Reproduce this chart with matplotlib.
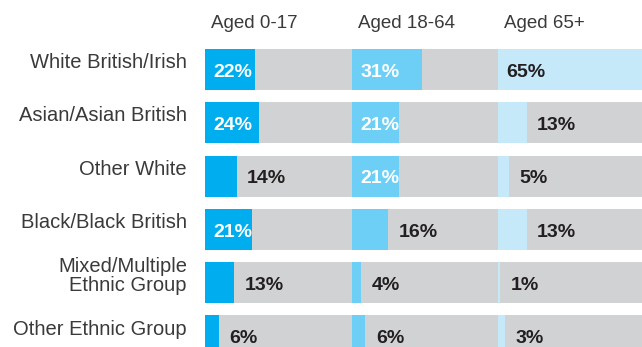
import matplotlib
matplotlib.use("Agg")
import matplotlib.pyplot as plt
from matplotlib.transforms import offset_copy

# Share of each ethnic group by age band (%)
groups = ["White British/Irish", "Asian/Asian British", "Other White",
          "Black/Black British", "Mixed/Multiple\nEthnic Group", "Other Ethnic Group"]
age_bands = ["Aged 0-17", "Aged 18-64", "Aged 65+"]
aged_0_17 = [22, 24, 14, 21, 13, 6]
aged_18_64 = [31, 21, 21, 16, 4, 6]
aged_65_plus = [65, 13, 5, 13, 1, 3]

band_values = [aged_0_17, aged_18_64, aged_65_plus]
band_colors = ["#00AEEF", "#6DCFF6", "#C6E9F9"]
inside_text = ["white", "white", "#231F20"]
grey = "#D1D2D4"
dark = "#231F20"

W, H, DPI = 642, 347, 100
fig = plt.figure(figsize=(W / DPI, H / DPI), dpi=DPI)
fig.patch.set_facecolor("white")

panel_left = [205, 352, 498]
panel_right = [352, 498, 642]
top_px = 42.85
pitch_px = 53.3
n_rows = len(groups)
rows = list(range(n_rows))
ax_h = (H - top_px) / H
y_span = (H - top_px) / pitch_px
x_max = 65

axes = []
for k, (vals, col) in enumerate(zip(band_values, band_colors)):
    l = panel_left[k] / W
    w = (panel_right[k] - panel_left[k]) / W
    ax = fig.add_axes([l, 0, w, ax_h])
    ax.set_xlim(0, x_max)
    ax.set_ylim(-0.5 + y_span, -0.5)
    ax.axis("off")
    ax.barh(rows, [x_max] * n_rows, height=0.77, color=grey, linewidth=0)
    ax.barh(rows, vals, height=0.77, color=col, linewidth=0)
    for r, v in zip(rows, vals):
        inside = v >= 20
        x0 = 0 if inside else v
        ax.annotate(f"{v}%", xy=(x0, r), xytext=(6 if inside else 7.5, -2),
                    textcoords="offset points", ha="left", va="center",
                    fontsize=14, fontweight="bold", family="Liberation Sans",
                    color=inside_text[k] if inside else dark)
    fig.text((panel_left[k] + 6) / W, 1 - 24 / H, age_bands[k], ha="left",
             va="center", fontsize=13.5, family="Liberation Sans", color="#3a3a3a")
    axes.append(ax)

# Group names to the left of the first panel
name_tr = offset_copy(axes[0].transData, fig=fig, x=-13, y=5, units="points")
for r, g in zip(rows, groups):
    axes[0].text(0, r, g, transform=name_tr, ha="right", va="center",
                 multialignment="right", fontsize=14.5, family="Liberation Sans",
                 color="#3a3a3a", linespacing=1.0)

fig.savefig("out.png", dpi=DPI)
